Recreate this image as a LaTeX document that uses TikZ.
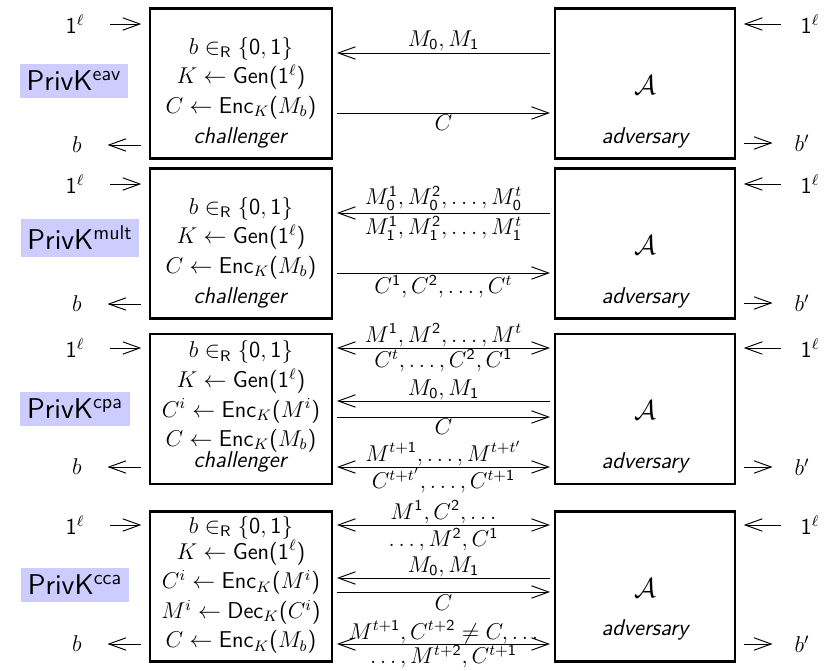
\documentclass[tikz,border=0pt]{standalone}
\usepackage{amsmath,amssymb}
\usetikzlibrary{arrows.meta,positioning}
\renewcommand{\familydefault}{\sfdefault}
\DeclareSymbolFont{operators}{OT1}{cmss}{m}{n}
\definecolor{privk}{RGB}{204,204,255}

\begin{document}
\begin{tikzpicture}[
    x=0.525pt, y=-0.525pt,
    >={Straight Barb[length=9pt,width=6.5pt]},
    font=\fontsize{12}{15.5}\selectfont,
    party/.style={draw, very thick, minimum height=78.75pt, inner sep=0pt},
    chal/.style={party, minimum width=95.5pt},
    adv/.style={party, minimum width=94.5pt},
    msg/.style={line width=0.5pt, shorten <=2pt, shorten >=2pt},
    lbl/.style={inner sep=1pt, font=\fontsize{12}{13}\selectfont},
    side/.style={line width=0.5pt, shorten <=10pt, shorten >=4pt},
    game/.style={fill=privk, inner sep=3.5pt, font=\fontsize{15}{18}\selectfont},
    role/.style={font=\fontsize{12}{13}\selectfont\slshape},
    algo/.style={font=\fontsize{14}{16}\selectfont}
]
\useasboundingbox (0,0) rectangle (830,671);

% eavesdropping
\node[chal] (ch1) at (241,83.5) {};
\node[align=center] (cht1) at (241,92.5)
{ $b \in_{\mathsf R} \{0,1\}$\\
$K \leftarrow \mathsf{Gen}(1^\ell)$\\
$C \leftarrow \mathsf{Enc}_K(M_b)$\\
\textsl{challenger} };
\node[adv] (adv1) at (645,83.5) {};
\node[algo] (a1) at (645,85) {$\mathcal{A}$};
\node[role] (r1) at (645,138) {adversary};
\node[game] (g1) at (74,81) {PrivK$^{\text{eav}}$};

\draw[msg, <-] (ch1.east |- 0,53) -- node[lbl, above] (m1a) {$M_0, M_1$} (adv1.west |- 0,53);
\draw[msg, ->] (ch1.east |- 0,113) -- node[lbl, below] (m1b) {$C$} (adv1.west |- 0,113);

\node (l1) at (75,24) {$1^\ell$};
\node (o1) at (77,145) {$b$};
\node (rl1) at (810,24) {$1^\ell$};
\node (ro1) at (802,143) {$b'$};
\draw[side, ->] (l1) -- (ch1.west |- l1);
\draw[side, <-, shorten <=10pt, shorten >=4pt] (o1) -- (ch1.west |- o1);
\draw[side, ->, shorten <=7pt] (rl1) -- (adv1.east |- rl1);
\draw[side, <-, shorten <=8pt, shorten >=4pt] (ro1) -- (adv1.east |- ro1);

% multiple messages
\node[chal] (ch2) at (241,243.5) {};
\node[align=center] (cht2) at (241,252.5)
{ $b \in_{\mathsf R} \{0,1\}$\\
$K \leftarrow \mathsf{Gen}(1^\ell)$\\
$C \leftarrow \mathsf{Enc}_K(M_b)$\\
\textsl{challenger} };
\node[adv] (adv2) at (645,243.5) {};
\node[algo] (a2) at (645,245) {$\mathcal{A}$};
\node[role] (r2) at (645,298) {adversary};
\node[game] (g2) at (80,238) {PrivK$^{\text{mult}}$};

\draw[msg, <-] (ch2.east |- 0,213)
    -- node[lbl, above] (m2a) {$M_0^1, M_0^2, \ldots, M_0^t$}
       node[lbl, below, inner sep=1.5pt] (m2b) {$M_1^1, M_1^2, \ldots, M_1^t$} (adv2.west |- 0,213);
\draw[msg, ->] (ch2.east |- 0,273) -- node[lbl, below] (m2c) {$C^1, C^2, \ldots, C^t$} (adv2.west |- 0,273);

\node (l2) at (75,184) {$1^\ell$};
\node (o2) at (77,304) {$b$};
\node (rl2) at (810,184) {$1^\ell$};
\node (ro2) at (802,303) {$b'$};
\draw[side, ->] (l2) -- (ch2.west |- l2);
\draw[side, <-, shorten <=10pt, shorten >=4pt] (o2) -- (ch2.west |- o2);
\draw[side, ->, shorten <=7pt] (rl2) -- (adv2.east |- rl2);
\draw[side, <-, shorten <=8pt, shorten >=4pt] (ro2) -- (adv2.east |- ro2);

% chosen plaintext
\node[chal] (ch3) at (241,409) {};
\node[align=center] (cht3) at (241,406.5)
{ $b \in_{\mathsf R} \{0,1\}$\\
$K \leftarrow \mathsf{Gen}(1^\ell)$\\
$C^i \leftarrow \mathsf{Enc}_K(M^i)$\\
$C \leftarrow \mathsf{Enc}_K(M_b)$\\[-4.5pt]
\textsl{challenger} };
\node[adv] (adv3) at (645,409) {};
\node[algo] (a3) at (645,410) {$\mathcal{A}$};
\node[role] (r3) at (645,463) {adversary};
\node[game] (g3) at (75,409) {PrivK$^{\text{cpa}}$};

\draw[msg, <->] (ch3.east |- 0,348)
    -- node[lbl, above, inner sep=0.5pt] (m3a) {$M^1, M^2, \ldots, M^t$}
       node[lbl, below, inner sep=0.5pt] (m3b) {$C^t, \ldots, C^2, C^1$} (adv3.west |- 0,348);
\draw[msg, <-] (ch3.east |- 0,401) -- node[lbl, above, inner sep=0.5pt] (m3c) {$M_0, M_1$} (adv3.west |- 0,401);
\draw[msg, ->] (ch3.east |- 0,417) -- node[lbl, below, inner sep=0.5pt] (m3d) {$C$} (adv3.west |- 0,417);
\draw[msg, <->] (ch3.east |- 0,467)
    -- node[lbl, above, inner sep=0.5pt] (m3e) {$M^{t+1}, \ldots, M^{t+t'}$}
       node[lbl, below, inner sep=0.5pt] (m3f) {$C^{t+t'}, \ldots, C^{t+1}$} (adv3.west |- 0,467);

\node (l3) at (75,348) {$1^\ell$};
\node (o3) at (77,467) {$b$};
\node (rl3) at (810,348) {$1^\ell$};
\node (ro3) at (802,467) {$b'$};
\draw[side, ->] (l3) -- (ch3.west |- l3);
\draw[side, <-, shorten <=10pt, shorten >=4pt] (o3) -- (ch3.west |- o3);
\draw[side, ->, shorten <=7pt] (rl3) -- (adv3.east |- rl3);
\draw[side, <-, shorten <=8pt, shorten >=4pt] (ro3) -- (adv3.east |- ro3);

% chosen ciphertext
\node[chal] (ch4) at (241,586.5) {};
\node[align=center] (cht4) at (241,585)
{ $b \in_{\mathsf R} \{0,1\}$\\[-2pt]
$K \leftarrow \mathsf{Gen}(1^\ell)$\\
$C^i \leftarrow \mathsf{Enc}_K(M^i)$\\
$M^i \leftarrow \mathsf{Dec}_K(C^i)$\\
$C \leftarrow \mathsf{Enc}_K(M_b)$ };
\node[adv] (adv4) at (645,586.5) {};
\node[algo] (a4) at (645,588) {$\mathcal{A}$};
\node[role] (r4) at (645,630) {adversary};
\node[game] (g4) at (75,585) {PrivK$^{\text{cca}}$};

\draw[msg, <->] (ch4.east |- 0,525)
    -- node[lbl, above, inner sep=0.5pt] (m4a) {$M^1, C^2, \ldots$}
       node[lbl, below, inner sep=1.5pt] (m4b) {$\ldots, M^2, C^1$} (adv4.west |- 0,525);
\draw[msg, <-] (ch4.east |- 0,578) -- node[lbl, above, inner sep=0.5pt] (m4c) {$M_0, M_1$} (adv4.west |- 0,578);
\draw[msg, ->] (ch4.east |- 0,592) -- node[lbl, below, inner sep=1.5pt] (m4d) {$C$} (adv4.west |- 0,592);
\draw[msg, <->] (ch4.east |- 0,644)
    -- node[lbl, above, inner sep=0pt] (m4e) {$M^{t+1}, C^{t+2} \neq C, \ldots$}
       node[lbl, below, inner sep=0.5pt] (m4f) {$\ldots, M^{t+2}, C^{t+1}$} (adv4.west |- 0,644);

\node (l4) at (75,525) {$1^\ell$};
\node (o4) at (77,644) {$b$};
\node (rl4) at (810,525) {$1^\ell$};
\node (ro4) at (802,644) {$b'$};
\draw[side, ->] (l4) -- (ch4.west |- l4);
\draw[side, <-, shorten <=10pt, shorten >=4pt] (o4) -- (ch4.west |- o4);
\draw[side, ->, shorten <=7pt] (rl4) -- (adv4.east |- rl4);
\draw[side, <-, shorten <=8pt, shorten >=4pt] (ro4) -- (adv4.east |- ro4);

\end{tikzpicture}
\end{document}
